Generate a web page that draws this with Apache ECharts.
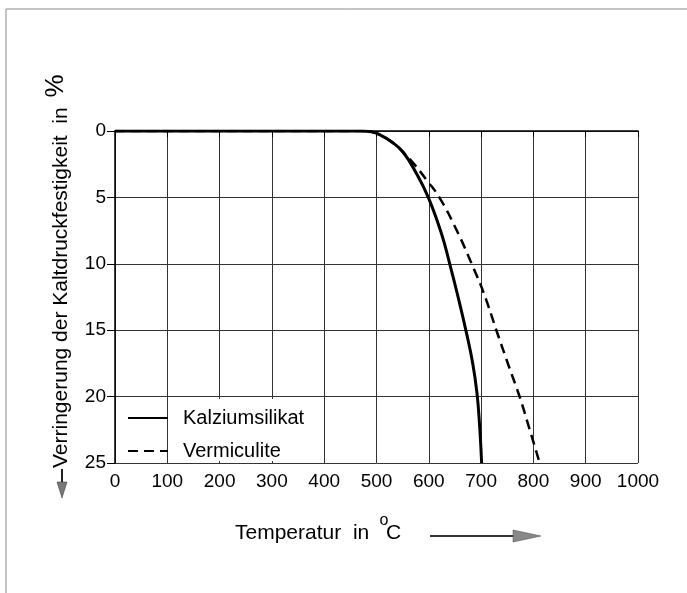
<!DOCTYPE html>
<html lang="de">
<head>
<meta charset="UTF-8">
<title>Kaltdruckfestigkeit</title>
<script src="https://cdn.jsdelivr.net/npm/echarts@6/dist/echarts.min.js"></script>
<style>
  html, body { margin: 0; padding: 0; background: #fff; }
  #chart { width: 687px; height: 593px; }
</style>
</head>
<body>
<div id="chart"></div>
<script>
  let kalziumT = [0, 470, 490, 507, 530, 551, 575, 599, 624, 640, 656, 672, 684, 692, 697, 701];
  let kalziumV = [0, 0, 0.05, 0.3, 0.85, 1.6, 3.1, 5.0, 7.7, 10.0, 12.5, 15.2, 17.5, 19.7, 22.1, 25];
  let vermT = [0, 470, 490, 507, 530, 551, 570, 596, 621, 653, 682, 705, 730, 752, 774, 793, 812];
  let vermV = [0, 0, 0.05, 0.3, 0.85, 1.6, 2.4, 3.7, 5.05, 7.45, 10.0, 12.2, 15.1, 17.6, 20.05, 22.5, 25];
  let seriesNames = ['Kalziumsilikat', 'Vermiculite'];

  let font = 'Liberation Sans, Arial, sans-serif';
  let zip = (xs, ys) => xs.map((x, i) => [x, ys[i]]);

  let chart = echarts.init(document.getElementById('chart'));
  chart.setOption({
    animation: false,
    grid: { left: 115, right: 49, top: 131, bottom: 130 },
    xAxis: {
      type: 'value', min: 0, max: 1000, interval: 100,
      axisLine: { lineStyle: { color: '#000', width: 1.5 } },
      axisTick: { length: 6, lineStyle: { color: '#000' } },
      axisLabel: { color: '#000', fontSize: 19, fontFamily: font, margin: 9, formatter: v => String(v) },
      splitLine: { lineStyle: { color: '#333', width: 1 } }
    },
    yAxis: {
      type: 'value', inverse: true, min: 0, max: 25, interval: 5,
      axisLine: { show: true, lineStyle: { color: '#000', width: 1.5 } },
      axisTick: { show: true, length: 8, lineStyle: { color: '#000' } },
      axisLabel: { color: '#000', fontSize: 19, fontFamily: font, margin: 9 },
      splitLine: { lineStyle: { color: '#333', width: 1 } }
    },
    legend: {
      left: 122, top: 403, orient: 'vertical',
      itemWidth: 40, itemHeight: 14, itemGap: 13,
      lineStyle: { width: 2 },
      itemStyle: { opacity: 0 },
      textStyle: { color: '#000', fontSize: 20, fontFamily: font, padding: [0, 0, 0, 10] },
      data: seriesNames
    },
    series: [
      {
        name: seriesNames[0], type: 'line', symbol: 'none', symbolSize: 0,
        smooth: 0.45,
        lineStyle: { color: '#000', width: 3 },
        itemStyle: { color: '#000' },
        data: zip(kalziumT, kalziumV)
      },
      {
        name: seriesNames[1], type: 'line', symbol: 'none', symbolSize: 0,
        smooth: 0.45,
        lineStyle: { color: '#000', width: 2.5, type: [10, 6] },
        itemStyle: { color: '#000' },
        data: zip(vermT, vermV)
      }
    ],
    graphic: [
      // Rahmen
      { type: 'line', shape: { x1: 6, y1: 9, x2: 687, y2: 9 }, style: { stroke: '#888', lineWidth: 1 } },
      { type: 'line', shape: { x1: 6, y1: 9, x2: 6, y2: 593 }, style: { stroke: '#888', lineWidth: 1 } },
      // Legendenfeld
      { type: 'rect', z: 1, shape: { x: 170, y: 399, width: 140, height: 62 }, style: { fill: '#fff' } },
      // y-Achsentitel
      {
        type: 'text', x: 61, y: 468, rotation: Math.PI / 2,
        style: { text: 'Verringerung der Kaltdruckfestigkeit  in', fill: '#000', font: '21px ' + font, textAlign: 'left', textVerticalAlign: 'middle' }
      },
      {
        type: 'text', x: 56, y: 86, rotation: Math.PI / 2,
        style: { text: '%', fill: '#000', font: '26px ' + font, textAlign: 'center', textVerticalAlign: 'middle' }
      },
      { type: 'line', shape: { x1: 62, y1: 469, x2: 62, y2: 484 }, style: { stroke: '#222', lineWidth: 2 } },
      { type: 'polygon', shape: { points: [[57, 482], [67, 482], [62, 498]] }, style: { fill: '#777', stroke: '#333', lineWidth: 0.5 } },
      // x-Achsentitel
      {
        type: 'text', x: 235, y: 533,
        style: { text: 'Temperatur  in', fill: '#000', font: '21px ' + font, textAlign: 'left', textVerticalAlign: 'middle' }
      },
      {
        type: 'text', x: 384, y: 521,
        style: { text: 'o', fill: '#000', font: '16px ' + font, textAlign: 'center', textVerticalAlign: 'middle' }
      },
      {
        type: 'text', x: 386, y: 533,
        style: { text: 'C', fill: '#000', font: '21px ' + font, textAlign: 'left', textVerticalAlign: 'middle' }
      },
      { type: 'line', shape: { x1: 430, y1: 536, x2: 515, y2: 536 }, style: { stroke: '#333', lineWidth: 2 } },
      { type: 'polygon', shape: { points: [[513, 530], [541, 536], [513, 542]] }, style: { fill: '#888', stroke: '#444', lineWidth: 0.5 } }
    ]
  });
</script>
</body>
</html>
